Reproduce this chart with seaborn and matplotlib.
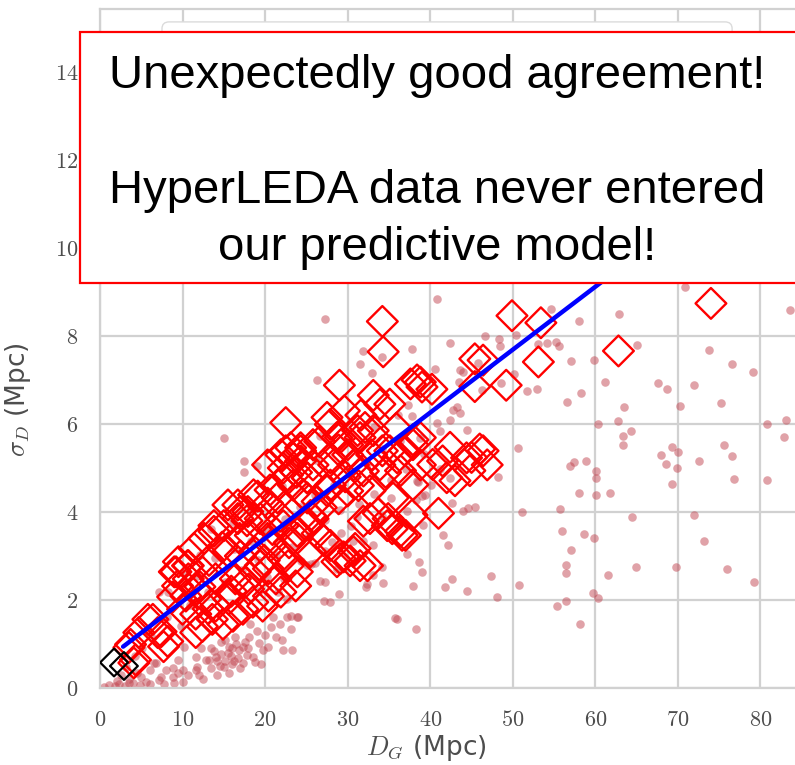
import matplotlib
matplotlib.use("Agg")
import matplotlib.pyplot as plt
from matplotlib.patches import Rectangle, FancyBboxPatch
from matplotlib.ticker import FuncFormatter
import seaborn as sns

# HyperLEDA distance errors (D_G, sigma_D) in Mpc
hyperleda = [
    (58.0, 4.43), (60.1, 4.38), (61.8, 4.43), (69.3, 4.63), (55.7, 4.06), (51.1, 3.99), (64.4, 3.88),
    (71.9, 3.92), (55.9, 3.56), (58.6, 3.49), (59.8, 3.40), (73.2, 3.35), (57.0, 3.14), (56.4, 2.80),
    (56.5, 2.61), (64.9, 2.75), (69.8, 2.75), (76.0, 2.71), (61.5, 2.57), (47.3, 2.55), (50.8, 2.34),
    (79.2, 2.41), (59.7, 2.16), (60.3, 2.04), (48.1, 2.06), (56.5, 1.97), (55.3, 1.86), (58.1, 1.45),
    (76.8, 4.75), (80.8, 4.72), (70.9, 9.11), (83.6, 8.60), (62.9, 8.51), (54.6, 8.62), (58.0, 8.33),
    (65.0, 7.80), (73.8, 7.68), (76.6, 7.36), (79.1, 7.18), (57.1, 7.43), (59.8, 7.45), (61.2, 6.95),
    (67.6, 6.93), (68.7, 6.79), (71.9, 6.88), (70.2, 6.40), (75.2, 6.47), (63.5, 6.38), (56.6, 6.51),
    (58.3, 6.70), (51.7, 6.74), (52.9, 6.79), (60.3, 5.99), (62.8, 6.06), (63.3, 5.73), (64.3, 5.83),
    (63.4, 5.53), (80.8, 5.99), (83.1, 6.08), (82.9, 5.71), (50.6, 5.46), (57.4, 5.14), (56.9, 5.05),
    (58.9, 5.16), (67.9, 5.30), (69.3, 5.48), (70.0, 5.37), (69.9, 5.00), (72.6, 5.16), (75.6, 5.53),
    (76.6, 5.28), (68.6, 5.09), (60.1, 4.93), (60.1, 4.77), (48.2, 4.79), (50.1, 7.13), (48.6, 6.93),
    (46.6, 8.00), (48.3, 7.94), (48.4, 7.77), (53.1, 7.82), (54.2, 7.84), (55.2, 7.87), (55.6, 7.77),
    (50.4, 8.03), (45.8, 7.38), (46.3, 6.78),
    (40.8, 8.83), (37.8, 7.71), (42.4, 7.84), (44.0, 7.18), (43.5, 6.95), (42.8, 6.31), (43.2, 6.38),
    (43.6, 6.26), (42.4, 6.08), (44.5, 5.87), (40.8, 6.03), (41.2, 5.85), (38.8, 5.69), (38.4, 4.71),
    (39.0, 4.37), (42.4, 4.78), (44.0, 4.02), (45.4, 4.11), (44.6, 4.08), (41.6, 3.47), (42.2, 3.24),
    (38.6, 2.87), (39.0, 2.64), (42.6, 2.48), (41.8, 2.29), (44.4, 2.20), (37.9, 2.32), (38.5, 4.68),
    (39.4, 4.38), (42.6, 4.20), (37.2, 3.05), (35.7, 1.58), (38.3, 1.33), (40.6, 7.25), (43.6, 7.22),
    (37.3, 6.42), (37.8, 6.19),
    (34.1, 2.75), (34.3, 2.39), (32.2, 2.29), (33.1, 2.57), (33.1, 3.24), (31.8, 3.35), (30.6, 3.33),
    (29.0, 2.13), (27.1, 1.97), (27.9, 1.95), (27.3, 2.41), (26.7, 2.44), (25.5, 2.82), (24.0, 1.61),
    (23.1, 1.63), (23.3, 0.87), (28.7, 2.71), (26.1, 2.83), (32.4, 2.37), (36.0, 1.56), (21.5, 2.18),
    (22.7, 2.02), (23.9, 1.61), (21.0, 1.61), (23.1, 1.33), (22.2, 0.87), (20.3, 0.94),
    (27.3, 8.39), (31.9, 7.66), (31.5, 7.36), (33.0, 7.16), (34.2, 7.52), (26.3, 7.00), (26.7, 5.73),
    (15.0, 5.69), (17.5, 5.16), (19.0, 5.05), (17.4, 4.91), (13.4, 3.62),
    (7.1, 2.18), (13.4, 0.92), (15.6, 0.94), (16.4, 1.17), (17.3, 0.94), (19.2, 1.03), (19.7, 0.87),
    (21.3, 1.17), (22.1, 1.10), (22.7, 1.61), (20.7, 1.38), (18.5, 0.71), (16.7, 0.69), (15.0, 0.48),
    (13.4, 0.46), (11.6, 0.41), (10.6, 0.30), (8.8, 0.25), (7.1, 0.18), (5.6, 0.14), (4.0, 0.11),
    (2.3, 0.09), (1.1, 0.07), (6.8, 0.57), (9.5, 0.64), (11.6, 0.71), (15.5, 0.80), (12.8, 0.64),
    (14.0, 0.71), (17.3, 0.57), (15.6, 0.34), (10.0, 0.41), (16.8, 0.87), (10.0, 0.14), (7.4, 0.25),
    (6.5, 0.57), (8.9, 0.46), (11.8, 0.48), (13.2, 0.64), (10.2, 0.94), (9.8, 1.40), (8.2, 2.18),
    (0.5, 0.03), (1.8, 0.04), (3.0, 0.05), (3.5, 0.12), (4.8, 0.06), (6.0, 0.08), (7.8, 0.10),
    (9.0, 0.12), (12.5, 0.20), (14.2, 0.30), (16.0, 0.55), (17.8, 0.75), (18.0, 1.15), (14.6, 1.05),
    (12.2, 0.90), (16.2, 0.62), (17.0, 0.45), (15.2, 0.62), (14.5, 0.50), (19.0, 1.30), (18.2, 1.45),
    (20.0, 1.20), (21.8, 1.45), (4.5, 0.35), (6.0, 0.40), (2.5, 0.30),
    (13.8, 0.85), (14.6, 0.78), (15.9, 0.72), (16.5, 1.00), (17.6, 1.05), (15.1, 1.10), (14.2, 0.62),
    (16.0, 0.90), (17.9, 0.90), (18.8, 0.60), (19.5, 0.55), (12.0, 0.30), (9.5, 0.35), (8.0, 0.40),
    (5.0, 0.25), (3.5, 0.20), (2.0, 0.15),
    (11.8, 2.55), (13.9, 2.95), (16.2, 3.15), (18.3, 3.35), (20.1, 3.62), (22.4, 3.85), (24.2, 4.12),
    (26.1, 4.38), (28.4, 4.62), (30.2, 4.95), (32.3, 5.08), (34.1, 5.42), (36.3, 5.61), (13.1, 2.18),
    (15.2, 2.42), (17.2, 2.68), (19.1, 2.92), (21.3, 3.02), (23.2, 3.21), (25.3, 3.48), (27.2, 3.82),
    (29.1, 4.05), (31.4, 4.18), (33.2, 4.41), (35.3, 4.72), (37.1, 4.98), (39.2, 5.31), (10.9, 1.88),
    (20.2, 2.52), (24.3, 2.88), (28.1, 3.32), (30.4, 3.68), (34.2, 3.91), (38.3, 4.28), (40.1, 4.62),
    (41.2, 4.98), (36.1, 6.21), (33.2, 5.92), (26.2, 5.18), (22.1, 4.58), (18.2, 4.02), (16.1, 3.78),
    (14.3, 3.42), (12.1, 3.02), (10.2, 2.61), (8.1, 1.62), (6.2, 1.18), (5.1, 0.92), (4.2, 0.72),
    (3.1, 0.48), (19.2, 2.21), (22.3, 2.48), (25.1, 2.79), (27.3, 3.12), (29.2, 3.52), (31.1, 3.88),
    (35.2, 4.31), (37.2, 4.02), (39.1, 3.71),
]

# model predictions (red open diamonds)
predicted = [
    (74.0, 8.74), (62.8, 7.66), (49.9, 8.46), (53.4, 8.30), (53.1, 7.41), (49.2, 6.88), (46.4, 7.45),
    (45.4, 7.48), (46.4, 5.39), (46.9, 5.07), (37.6, 6.91), (38.4, 7.00), (39.0, 6.84), (40.2, 6.79),
    (45.4, 6.85), (37.9, 5.64), (42.4, 5.47), (40.3, 5.08), (43.0, 4.71), (46.0, 5.43), (45.0, 5.24),
    (41.0, 3.97), (37.8, 3.93), (37.0, 3.47), (44.8, 4.94), (42.0, 4.78),
    (36.6, 3.47), (35.4, 3.62), (34.9, 3.85), (33.7, 3.97), (31.5, 2.78), (30.3, 2.89), (29.5, 2.98),
    (30.9, 3.17), (31.9, 3.79), (32.7, 3.85), (27.1, 3.35), (26.3, 3.51), (23.7, 2.32), (23.9, 2.64),
    (34.2, 8.33), (34.3, 7.64), (29.0, 6.88), (33.1, 6.65), (33.9, 6.45), (38.8, 6.95), (22.5, 6.03),
    (27.5, 6.15), (27.9, 5.99), (32.1, 5.92), (31.5, 5.69), (30.0, 5.53), (28.9, 5.41), (34.2, 5.39),
    (36.0, 5.23), (38.8, 5.69), (41.5, 5.16), (38.8, 5.07), (44.4, 5.23), (24.3, 5.46), (23.4, 5.23),
    (25.8, 5.07), (31.9, 4.93),
    (21.9, 5.30), (23.1, 5.46), (24.3, 5.16), (22.2, 5.00), (21.6, 4.61), (23.4, 4.61), (25.1, 4.77),
    (19.1, 4.36), (20.3, 4.20), (17.9, 4.01), (16.7, 3.85), (15.0, 3.69), (13.8, 3.56), (12.6, 3.40),
    (11.4, 3.17), (9.5, 2.87), (10.7, 2.78), (16.7, 4.16), (19.4, 3.85), (18.2, 3.47), (15.5, 3.10),
    (17.0, 3.00), (26.3, 4.24), (27.9, 4.61), (28.7, 5.69), (30.0, 5.30), (27.9, 5.23), (25.5, 3.92),
    (22.2, 3.69), (23.9, 3.40), (20.7, 3.24), (22.2, 2.94), (25.5, 3.10), (27.9, 3.24), (28.7, 2.87),
    (19.4, 2.78),
    (9.2, 2.64), (6.4, 1.56), (4.7, 1.26), (3.7, 0.99), (4.3, 0.64), (8.2, 1.06), (7.4, 1.28),
    (9.4, 2.32), (10.4, 2.09), (11.6, 2.25), (8.8, 2.07), (10.0, 1.79), (11.6, 1.68), (12.4, 1.40),
    (11.6, 1.26), (13.6, 1.56), (14.9, 1.45), (16.1, 1.63), (17.3, 1.79), (18.5, 1.95), (19.7, 1.86),
    (20.4, 2.09), (21.9, 2.18), (21.3, 2.48), (22.8, 2.78), (14.0, 1.86), (15.6, 2.02), (12.8, 2.02),
    (10.7, 2.48), (12.4, 2.64), (14.0, 2.48), (16.4, 2.48), (18.0, 2.25), (18.8, 2.64), (20.4, 2.71),
    (3.5, 0.92), (7.0, 1.26), (7.7, 0.94), (4.1, 0.57), (5.8, 1.56),
    (35.1, 6.45), (22.5, 5.39), (24.3, 5.39), (25.8, 5.53), (29.1, 5.69), (31.2, 5.85), (33.1, 5.85),
    (20.3, 5.07), (22.7, 4.84), (25.1, 4.78), (28.3, 5.07), (30.7, 5.07), (33.9, 5.07), (35.1, 5.39),
    (36.4, 4.94), (37.9, 5.53), (37.9, 4.62), (35.5, 4.32), (32.7, 4.48), (30.0, 4.48), (27.5, 4.48),
    (25.1, 4.32), (21.5, 4.32), (18.6, 4.39), (17.0, 4.01), (13.8, 3.69), (15.5, 4.16), (25.8, 3.85),
    (23.9, 3.56), (20.3, 3.40), (34.8, 3.69), (36.4, 3.56), (30.7, 3.10), (32.4, 2.78), (29.1, 2.94),
    (9.0, 2.64), (10.6, 2.78),
    (13.2, 2.90), (14.8, 3.20), (16.9, 3.40), (18.7, 3.10), (20.9, 3.60), (21.8, 3.90), (24.6, 4.40),
    (26.8, 4.10), (28.9, 4.30), (29.7, 4.80), (31.3, 4.60), (32.9, 5.30), (34.6, 4.90), (36.9, 5.40),
    (24.9, 3.70), (22.9, 3.30), (19.9, 2.90), (17.6, 2.40), (15.9, 2.20), (13.1, 1.80), (12.1, 2.30),
    (17.8, 3.80), (20.6, 4.50), (23.8, 4.90), (26.6, 5.60), (29.6, 6.30), (31.6, 6.20), (35.9, 5.90),
]

# black diamonds near the origin
anchors = [(1.7, 0.58), (2.9, 0.50)]

# linear fit (blue)
fit_x = [2.8, 104.0]
fit_y = [0.94, 15.41]

x_ticks = [0, 10, 20, 30, 40, 50, 60, 70, 80]
y_ticks = [0, 2, 4, 6, 8, 10, 12, 14]

note_lines = ["Unexpectedly good agreement!", "HyperLEDA data never entered", "our predictive model!"]

sns.set_style("whitegrid", {"grid.color": "0.82", "axes.edgecolor": "0.82"})
plt.rcParams["mathtext.fontset"] = "cm"
plt.rcParams["font.family"] = ["DejaVu Sans"]

fig = plt.figure(figsize=(7.95, 7.65), dpi=100)
ax = fig.add_axes([100 / 795, 77 / 765, 710 / 795, 679 / 765])

hl_x, hl_y = zip(*hyperleda)
pr_x, pr_y = zip(*predicted)
an_x, an_y = zip(*anchors)

sns.scatterplot(x=list(hl_x), y=list(hl_y), color=(0.76, 0.28, 0.32), alpha=0.5, s=38,
                linewidth=0, ax=ax, zorder=2)
sns.scatterplot(x=list(pr_x), y=list(pr_y), marker="D", s=245, facecolor="none",
                edgecolor="red", linewidth=1.7, ax=ax, zorder=3)
sns.lineplot(x=fit_x, y=fit_y, color="blue", lw=3.2, ax=ax, zorder=4)
sns.scatterplot(x=list(an_x), y=list(an_y), marker="D", s=200, facecolor="none",
                edgecolor="black", linewidth=1.6, ax=ax, zorder=5)

ax.set_xlim(0, 86)
ax.set_ylim(0, 15.43)
ax.set_xticks(x_ticks)
ax.set_yticks(y_ticks)
fmt = FuncFormatter(lambda v, p: r"$%d$" % v)
ax.xaxis.set_major_formatter(fmt)
ax.yaxis.set_major_formatter(fmt)
ax.tick_params(labelsize=16, pad=12, colors="0.25", labelcolor="0.3")
ax.grid(lw=1.6)
for s in ax.spines.values():
    s.set_linewidth(1.6)

ax.set_xlabel(r"$D_G$ (Mpc)", fontsize=19, color="0.3")
ax.set_ylabel(r"$\sigma_D$ (Mpc)", fontsize=19, color="0.3")
ax.xaxis.set_label_coords(0.459, -0.066)
ax.yaxis.set_label_coords(-0.094, 0.424)

# faint legend frame that peeks out above the note box
ax.add_patch(FancyBboxPatch((0.0873, 0.80), 0.803, 0.181, transform=ax.transAxes,
                            boxstyle="round,pad=0,rounding_size=0.01", facecolor="white",
                            edgecolor="0.86", lw=1.0, zorder=6))

# the note box on top
fig.add_artist(Rectangle((80 / 795, 1 - 283 / 765), 740 / 795, 251 / 765,
                         transform=fig.transFigure, facecolor="white", edgecolor="red",
                         lw=1.6, zorder=10))
for txt, yb in zip(note_lines, [88, 203, 260]):
    fig.text(437 / 795, 1 - yb / 765, txt, ha="center", va="baseline", fontsize=34,
             family="Liberation Sans", color="black", zorder=11)

plt.savefig("out.png", dpi=100)
